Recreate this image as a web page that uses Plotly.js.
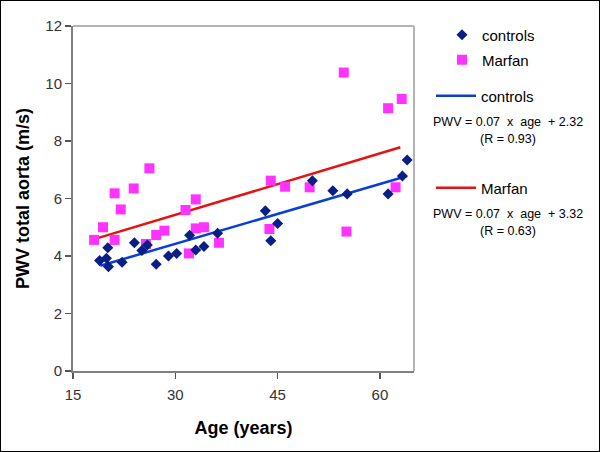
<!DOCTYPE html>
<html>
<head>
<meta charset="utf-8">
<script src="https://cdn.plot.ly/plotly-3.0.1.min.js"></script>
<style>
  html, body { margin: 0; padding: 0; background: #fff; }
  #wrap { position: relative; width: 600px; height: 452px; }
  #chart { width: 600px; height: 452px; }
  #frame { position: absolute; left: 0; top: 0; width: 600px; height: 452px; box-sizing: border-box; border: 1px solid #000; pointer-events: none; }
</style>
</head>
<body>
<div id="wrap"><div id="chart"></div><div id="frame"></div></div>
<script>
// Controls: age (years) and PWV total aorta (m/s)
const controlsAge = [18.9, 19.9, 20.1, 20.2, 22.2, 24.0, 25.1, 25.9, 27.2, 29.0, 30.2, 32.1, 33.0, 34.2, 36.2, 43.2, 44.0, 45.0, 50.1, 53.1, 55.2, 61.2, 63.3, 64.0];
const controlsPWV = [3.84, 3.92, 4.29, 3.63, 3.78, 4.46, 4.19, 4.38, 3.71, 4.00, 4.09, 4.72, 4.21, 4.33, 4.79, 5.57, 4.53, 5.13, 6.62, 6.27, 6.16, 6.16, 6.78, 7.34];
// Marfan patients
const marfanAge = [18.1, 19.4, 21.1, 21.1, 22.0, 23.9, 25.7, 26.2, 27.2, 28.4, 31.5, 32.0, 33.0, 33.0, 34.2, 36.4, 43.8, 44.0, 46.1, 49.7, 54.7, 55.1, 61.2, 62.3, 63.2];
const marfanPWV = [4.56, 5.00, 4.56, 6.18, 5.62, 6.35, 4.42, 7.05, 4.73, 4.88, 5.60, 4.09, 5.97, 4.96, 5.00, 4.46, 4.94, 6.62, 6.41, 6.39, 10.38, 4.85, 9.14, 6.39, 9.46];
// Regression lines (end points)
const controlsFitAge = [19, 64];
const controlsFitPWV = [3.66, 6.78];
const marfanFitAge = [18, 63];
const marfanFitPWV = [4.58, 7.78];
// Axis ticks
const xTicks = [15, 30, 45, 60];
const yTicks = [0, 2, 4, 6, 8, 10, 12];
// Legend equations
const controlsEq = ["PWV = 0.07  x  age  + 2.32", "(R = 0.93)"];
const marfanEq = ["PWV = 0.07  x  age  + 3.32", "(R = 0.63)"];

const FONT = "Liberation Sans, Arial, sans-serif";
const NAVY = "#0a1f86";
const MAG = "#ff33ff";

const traces = [
  { x: controlsFitAge, y: controlsFitPWV, mode: "lines", name: "controls",
    line: { color: "#0a3fd6", width: 2.5 }, legend: "legend3" },
  { x: marfanFitAge, y: marfanFitPWV, mode: "lines", name: "Marfan",
    line: { color: "#e3140f", width: 2.5 }, legend: "legend4" },
  { x: marfanAge, y: marfanPWV, mode: "markers", name: "Marfan",
    marker: { symbol: "square", size: 10, color: MAG, line: { width: 0 } }, legend: "legend2" },
  { x: controlsAge, y: controlsPWV, mode: "markers", name: "controls",
    marker: { symbol: "diamond", size: 8.5, color: NAVY, line: { width: 0 } }, legend: "legend" }
];

const L = 73, R = 414, T = 26, B = 371;
const px = v => (v - L) / (R - L);
const py = v => (B - v) / (B - T);

function legendAt(x, y) {
  return { x: px(x), y: py(y), xanchor: "left", yanchor: "middle", xref: "paper", yref: "paper",
    bgcolor: "rgba(0,0,0,0)", borderwidth: 0, font: { family: FONT, size: 15, color: "#000" } };
}

const annotations = [];
function eq(lines, y1) {
  lines.forEach((t, i) => annotations.push({
    text: t, xref: "paper", yref: "paper", x: px(508), y: py(y1 + i * 17),
    xanchor: "center", yanchor: "middle", showarrow: false,
    font: { family: FONT, size: 12.5, color: "#000" }
  }));
}
eq(controlsEq, 122);
eq(marfanEq, 214);

const layout = {
  width: 600, height: 452,
  margin: { l: L, r: 600 - R, t: T, b: 452 - B },
  paper_bgcolor: "#fff", plot_bgcolor: "#fff",
  font: { family: FONT, color: "#333" },
  showlegend: true,
  legend: Object.assign(legendAt(442, 35), { itemwidth: 30 }),
  legend2: Object.assign(legendAt(442, 60), { itemwidth: 30 }),
  legend3: Object.assign(legendAt(431, 96), { itemwidth: 40 }),
  legend4: Object.assign(legendAt(431, 188), { itemwidth: 40 }),
  xaxis: {
    range: [15, 65], tickvals: xTicks, ticktext: xTicks.map(String),
    ticks: "outside", ticklen: 6, tickwidth: 1.5, tickcolor: "#555",
    ticklabelstandoff: 3,
    showline: true, linecolor: "#808080", linewidth: 2, showgrid: false, zeroline: false,
    tickfont: { family: FONT, size: 15, color: "#333" },
    title: { text: "<b>Age (years)</b>", font: { family: FONT, size: 18, color: "#000" }, standoff: 19 }
  },
  yaxis: {
    range: [0, 12], tickvals: yTicks, ticktext: yTicks.map(String),
    ticks: "outside", ticklen: 6, tickwidth: 1.5, tickcolor: "#555",
    showline: true, linecolor: "#808080", linewidth: 2, showgrid: false, zeroline: false,
    tickfont: { family: FONT, size: 15, color: "#333" },
    title: { text: "<b>PWV total aorta (m/s)</b>", font: { family: FONT, size: 18, color: "#000" }, standoff: 11 }
  },
  shapes: [
    { type: "line", xref: "paper", yref: "paper", x0: 0, x1: 1, y0: 1, y1: 1, line: { color: "#b4b4b4", width: 2 } },
    { type: "line", xref: "paper", yref: "paper", x0: 1, x1: 1, y0: 0, y1: 1, line: { color: "#b4b4b4", width: 2 } }
  ],
  annotations: annotations
};

Plotly.newPlot("chart", traces, layout, { displayModeBar: false, staticPlot: true });
</script>
</body>
</html>
